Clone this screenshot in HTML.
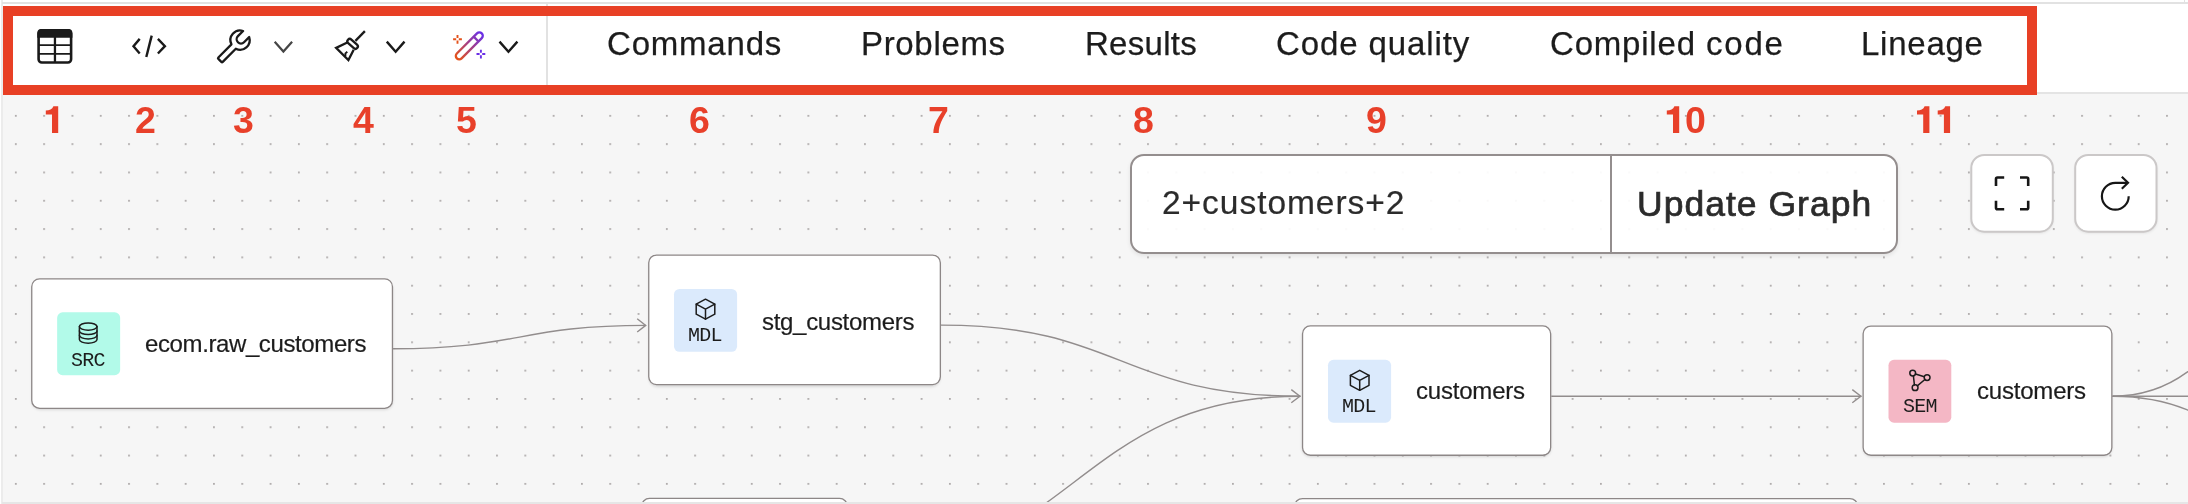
<!DOCTYPE html>
<html>
<head>
<meta charset="utf-8">
<title>Lineage</title>
<style>
html,body{margin:0;padding:0;}
body{width:2188px;height:504px;position:relative;overflow:hidden;background:#fff;font-family:"Liberation Sans",sans-serif;}
.abs{position:absolute;}
#canvas{left:3px;top:94px;width:2185px;height:408px;background:#f6f6f6;overflow:hidden;}
#toolbar{left:3px;top:4px;width:2185px;height:88px;background:#fff;border-bottom:2px solid #e4e4e4;}
.t{position:absolute;white-space:pre;line-height:1;will-change:transform;}
.tab{font-size:33px;color:#1c1c1c;top:26.8px;-webkit-text-stroke:0.25px #1c1c1c;}
.num{font-size:37.5px;font-weight:700;color:#e8402a;top:101.6px;}
.node{position:absolute;background:#fff;border-radius:8.500px;box-shadow:0 2px 3px rgba(0,0,0,0.13);}
.badge{position:absolute;width:63px;height:63px;border-radius:6px;}
.lbl{font-size:24px;color:#1c1c1c;-webkit-text-stroke:0.2px #1c1c1c;}
.code{font-family:"Liberation Mono",monospace;font-size:20px;color:#1c1c1c;letter-spacing:-0.7px;}
.btn{position:absolute;background:#fff;border-radius:13px;box-shadow:0 2px 3px rgba(0,0,0,0.10);}
</style>
</head>
<body>
<!-- frame lines -->
<div class="abs" style="left:1px;top:0;width:2px;height:504px;background:#ececec;"></div>
<div class="abs" style="left:2px;top:2px;width:2186px;height:2px;background:#e2e2e2;"></div>
<div class="abs" style="left:2184px;top:0;width:1px;height:3px;background:#e2e2e2;"></div>

<div id="toolbar" class="abs"></div>
<div class="abs" style="left:546px;top:4px;width:2px;height:88px;background:#e2e2e2;"></div>

<!-- canvas -->
<div id="canvas" class="abs">
<svg class="abs" style="left:0;top:0" width="2185" height="408">
  <defs>
    <pattern id="dots" x="11.9" y="20.9" width="28.305" height="28.310" patternUnits="userSpaceOnUse">
      <rect x="0" y="0" width="1.8" height="1.8" fill="#aeaaaa"/>
    </pattern>
  </defs>
  <rect width="2185" height="408" fill="url(#dots)"/>
</svg>
</div>

<!-- edges -->
<svg class="abs" style="left:0;top:0" width="2188" height="504" fill="none" stroke="#928d8d" stroke-width="1.400">
  <path d="M393.100,348.800 C519.500,348.800 519.500,325.400 646,325.400"/>
  <path d="M637.200,318.800 L645.700,325.400 L637.200,332" stroke-linejoin="miter" stroke-linecap="butt"/>
  <path d="M941,325.100 C1120.600,325.100 1120.600,396.200 1300.300,396.200"/>
  <path d="M848,568.200 C1074,568.200 1074,396.200 1300.300,396.200"/>
  <path d="M1291.300,389.600 L1299.900,396.200 L1291.300,402.800" stroke-linejoin="miter" stroke-linecap="butt"/>
  <path d="M1551.300,396.200 L1861.300,396.200"/>
  <path d="M1852.300,389.600 L1860.900,396.200 L1852.300,402.800" stroke-linejoin="miter" stroke-linecap="butt"/>
  <path d="M2112.500,396.200 C2237.600,396.200 2237.600,244 2362.700,244"/>
  <path d="M2112.500,396.200 L2200,396.200"/>
  <path d="M2112.500,396.200 C2237.600,396.200 2237.600,482.700 2362.700,482.700"/>
</svg>

<!-- bottom peeking nodes -->
<div class="node" style="left:641.500px;top:498.300px;width:206.000px;height:61.200px;"></div>
<div class="node" style="left:1294.500px;top:498.400px;width:563.300px;height:61.100px;"></div>

<!-- node 1 -->
<div class="node" style="left:31.600px;top:278.700px;width:361.000px;height:129.800px;"></div>

<!-- node 2 -->
<div class="node" style="left:648.600px;top:254.900px;width:291.900px;height:129.900px;"></div>

<!-- node 3 -->
<div class="node" style="left:1302.400px;top:325.800px;width:248.400px;height:129.600px;"></div>

<!-- node 4 -->
<div class="node" style="left:1863.000px;top:325.900px;width:249.000px;height:129.500px;"></div>

<!-- node borders -->
<svg class="abs" style="left:0;top:0" width="2188" height="504" fill="none" stroke="#8d8787" stroke-width="1.300">
  <rect x="641.650" y="498.450" width="205.700" height="60.900" rx="7.800"/>
  <rect x="1294.650" y="498.550" width="563.000" height="60.800" rx="7.800"/>
  <rect x="31.750" y="278.850" width="360.700" height="129.500" rx="7.800"/>
  <rect x="648.750" y="255.050" width="291.600" height="129.600" rx="7.800"/>
  <rect x="1302.550" y="325.950" width="248.100" height="129.300" rx="7.800"/>
  <rect x="1863.150" y="326.050" width="248.700" height="129.200" rx="7.800"/>
</svg>

<!-- badges -->
<svg class="abs" style="left:0;top:0" width="2188" height="504">
  <rect x="57.150" y="312.350" width="63" height="62.800" rx="5.500" fill="#b2fae9" stroke="none"/>
  <rect x="674" y="288.900" width="63.100" height="62.900" rx="5.500" fill="#dbeafc" stroke="none"/>
  <rect x="1328" y="359.800" width="63.100" height="62.900" rx="5.500" fill="#dbeafc" stroke="none"/>
  <rect x="1888.500" y="359.800" width="62.800" height="62.900" rx="5.500" fill="#f4b7c5" stroke="none"/>
</svg>

<!-- node icons -->
<svg class="abs" style="left:0;top:0" width="2188" height="504" fill="none" stroke="#1c1c1c" stroke-width="1.5" stroke-linejoin="round" stroke-linecap="round">
  <!-- database -->
  <g>
    <ellipse cx="88.2" cy="326.6" rx="8.8" ry="3.6"/>
    <path d="M79.400,326.600 V339.600 A8.8,3.6 0 0 0 97,339.600 V326.600"/>
    <path d="M79.400,331 A8.8,3.6 0 0 0 97,331"/>
    <path d="M79.400,335.300 A8.8,3.6 0 0 0 97,335.300"/>
  </g>
  <!-- cube node 2 -->
  <g transform="translate(705.500,309.200)">
    <path d="M0,-10 L9.3,-5 L9.3,5 L0,10 L-9.3,5 L-9.3,-5 Z"/>
    <path d="M-9.3,-5 L0,0 L9.3,-5 M0,0 L0,10"/>
  </g>
  <!-- cube node 3 -->
  <g transform="translate(1359.700,380.300)">
    <path d="M0,-10 L9.3,-5 L9.3,5 L0,10 L-9.3,5 L-9.3,-5 Z"/>
    <path d="M-9.3,-5 L0,0 L9.3,-5 M0,0 L0,10"/>
  </g>
  <!-- graph -->
  <g>
    <circle cx="1912.7" cy="373.1" r="2.9"/>
    <circle cx="1927.1" cy="377.6" r="2.9"/>
    <circle cx="1915.1" cy="387.7" r="2.9"/>
    <path d="M1915.500,374 L1924.300,376.700 M1924.900,379.500 L1917.300,385.800 M1914.400,384.900 L1913.400,375.900"/>
  </g>
</svg>

<!-- node text -->
<span class="t code" style="left:71px;top:350.500px;">SRC</span>
<span class="t lbl" style="left:145.200px;top:331.800px;letter-spacing:-0.39px;">ecom.raw_customers</span>
<span class="t code" style="left:688px;top:326.300px;">MDL</span>
<span class="t lbl" style="left:762.300px;top:309.500px;letter-spacing:-0.3px;">stg_customers</span>
<span class="t code" style="left:1342px;top:397.300px;">MDL</span>
<span class="t lbl" style="left:1416.200px;top:379px;letter-spacing:-0.2px;">customers</span>
<span class="t code" style="left:1903px;top:397.400px;">SEM</span>
<span class="t lbl" style="left:1977.200px;top:379px;letter-spacing:-0.2px;">customers</span>

<!-- search box -->
<div class="abs" style="left:1130px;top:154px;width:768px;height:100px;box-sizing:border-box;border:2px solid #948e8e;border-radius:14px;background:rgba(255,255,255,0.93);box-shadow:0 2px 4px rgba(0,0,0,0.08);"></div>
<div class="abs" style="left:1610px;top:155px;width:2px;height:98px;background:#948e8e;"></div>
<span class="t" style="left:1161.800px;top:186.200px;font-size:33.500px;color:#2b2b2b;letter-spacing:0.96px;-webkit-text-stroke:0.2px #2b2b2b;">2+customers+2</span>
<span class="t" style="left:1636.700px;top:187px;font-size:35.500px;font-weight:400;color:#2b2b2b;letter-spacing:1.02px;-webkit-text-stroke:0.7px #2b2b2b;">Update Graph</span>

<!-- buttons -->
<div class="btn" style="left:1971px;top:155px;width:82px;height:76px;"></div>
<div class="btn" style="left:2075px;top:155px;width:82px;height:76px;"></div>
<svg class="abs" style="left:0;top:0" width="2188" height="504" fill="none" stroke="#161616" stroke-width="2.6">
  <rect x="1971.300" y="155" width="81.500" height="76.700" rx="13" stroke="#cbc8c8" stroke-width="2"/>
  <rect x="2075.200" y="155" width="81.300" height="76.700" rx="13" stroke="#cbc8c8" stroke-width="2"/>
  <path d="M1996,186 V179 Q1996,177.500 1997.500,177.500 H2004.200"/>
  <path d="M2020,177.500 H2026.700 Q2028.200,177.500 2028.200,179 V186"/>
  <path d="M2028.200,200.700 V207.700 Q2028.200,209.200 2026.700,209.200 H2020"/>
  <path d="M2004.200,209.200 H1997.500 Q1996,209.200 1996,207.700 V200.700"/>
  <g stroke-width="2.200">
  <path d="M2128.700,196.200 A13.400,13.400 0 1 1 2115.300,182.800 L2127.600,182.800"/>
  <path d="M2121.800,176.800 L2128,182.800 L2121.800,188.800"/>
  </g>
</svg>

<!-- toolbar icons -->
<svg class="abs" style="left:0;top:0" width="2188" height="100" fill="none" stroke="#1a1a1a" stroke-width="2.400">
  <defs>
    <linearGradient id="wg" gradientUnits="userSpaceOnUse" x1="-17" y1="0" x2="17" y2="0">
      <stop offset="0" stop-color="#e4521b"/>
      <stop offset="1" stop-color="#6a2fe6"/>
    </linearGradient>
  </defs>
  <!-- table -->
  <rect x="38.6" y="30.4" width="32.500" height="32.100" rx="3.200" stroke-width="2.600"/>
  <path d="M37.300,37.700 V33.100 Q37.300,29.100 41.300,29.100 H68.400 Q72.400,29.100 72.400,33.100 V37.700 Z" fill="#1a1a1a" stroke="none"/>
  <path d="M54.950,37 V63" stroke-width="2.300"/>
  <path d="M38,45.100 H72 M38,53.850 H72" stroke-width="1.900"/>
  <!-- code -->
  <path d="M139.700,38.900 L133.500,46.200 L139.700,53.500"/>
  <path d="M151.700,35.600 L146.300,57"/>
  <path d="M157.900,38.900 L164.900,46.200 L157.900,53.500"/>
  <!-- wrench -->
  <g transform="translate(240.060,40.120) rotate(-45)" stroke-width="2.300" stroke-linejoin="round">
    <path d="M-9.090,-3.100 A9.600,9.600 0 0 1 8.580,-4.300 L1.300,-4.300 A4.300,4.300 0 0 0 1.300,4.300 L8.580,4.300 A9.600,9.600 0 0 1 -9.090,3.100 L-27.600,3.100 Q-28.600,3.100 -28.600,2.100 L-28.600,-2.100 Q-28.600,-3.100 -27.600,-3.100 Z"/>
  </g>
  <!-- chevrons -->
  <path d="M274.700,41.700 L283.400,51.600 L292.100,41.700" stroke="#454545" stroke-width="2.200"/>
  <path d="M386.800,41.600 L395.650,51.700 L404.500,41.600"/>
  <path d="M499.500,41.600 L508.450,51.700 L517.400,41.600"/>
  <!-- broom -->
  <g stroke-width="2.300">
    <path d="M364.900,31.100 L355.400,40.900"/>
    <rect x="-6.200" y="-2.400" width="12.400" height="4.800" rx="2.400" transform="translate(352.600,43.900) rotate(42)"/>
    <path d="M347.300,42.500 L336.100,47.900 L348.400,60 L353.700,49.700" stroke-linejoin="miter"/>
    <path d="M345.400,56 L345.400,53.400 L347.300,51.700" stroke-width="1.900" stroke-linejoin="round"/>
  </g>
  <!-- wand -->
  <g transform="translate(469.300,45.850) rotate(-45)" stroke="url(#wg)" stroke-width="2.300">
    <rect x="-17.650" y="-3.400" width="35.300" height="6.800" rx="3.400"/>
    <path d="M9.600,-3.400 V3.400"/>
  </g>
  <g stroke="#e4521b" stroke-width="1.900">
    <path d="M457.500,34.900 V38 M457.500,40.600 V43.700 M453.100,39.300 H456.200 M458.800,39.300 H461.900"/>
  </g>
  <g stroke="#6a2fe6" stroke-width="1.900">
    <path d="M480.900,49.650 V52.750 M480.900,55.350 V58.450 M476.500,54.050 H479.600 M482.200,54.050 H485.300"/>
  </g>
</svg>

<!-- tabs -->
<span class="t tab" style="left:606.500px;letter-spacing:0.8px;">Commands</span>
<span class="t tab" style="left:860.500px;letter-spacing:0.67px;">Problems</span>
<span class="t tab" style="left:1084.500px;letter-spacing:0.28px;">Results</span>
<span class="t tab" style="left:1276px;letter-spacing:0.9px;">Code quality</span>
<span class="t tab" style="left:1550px;letter-spacing:0.8px;">Compiled</span>
<span class="t tab" style="left:1705.600px;letter-spacing:1.8px;">code</span>
<span class="t tab" style="left:1860.800px;letter-spacing:0.75px;">Lineage</span>

<!-- numbers -->
<svg class="abs" style="left:0;top:0" width="2188" height="504" fill="#e8402a" stroke="none">
  <path transform="translate(45.800,106.200)" d="M12.400,0 L12.400,26.700 L6.200,26.700 L6.200,8.400 L0,8.400 L0,4.300 C3.500,4.300 6.600,3 7.600,0 Z"/>
  <path transform="translate(1666.800,106.200)" d="M12.400,0 L12.400,26.700 L6.200,26.700 L6.200,8.400 L0,8.400 L0,4.300 C3.500,4.300 6.600,3 7.600,0 Z"/>
  <path transform="translate(1917,106.200)" d="M12.400,0 L12.400,26.700 L6.200,26.700 L6.200,8.400 L0,8.400 L0,4.300 C3.500,4.300 6.600,3 7.600,0 Z"/>
  <path transform="translate(1937.700,106.200)" d="M12.400,0 L12.400,26.700 L6.200,26.700 L6.200,8.400 L0,8.400 L0,4.300 C3.500,4.300 6.600,3 7.600,0 Z"/>
</svg>
<span class="t num" style="left:135px;">2</span>
<span class="t num" style="left:233px;">3</span>
<span class="t num" style="left:353px;">4</span>
<span class="t num" style="left:456px;">5</span>
<span class="t num" style="left:689px;">6</span>
<span class="t num" style="left:927.500px;">7</span>
<span class="t num" style="left:1133px;">8</span>
<span class="t num" style="left:1366px;">9</span>
<span class="t num" style="left:1685px;">0</span>

<div class="abs" style="left:2px;top:502px;width:2186px;height:2px;background:#e6e6e6;"></div>
<!-- red highlight -->
<div class="abs" style="left:3px;top:6px;width:2034px;height:89px;box-sizing:border-box;border:10px solid #e84025;"></div>
</body>
</html>
